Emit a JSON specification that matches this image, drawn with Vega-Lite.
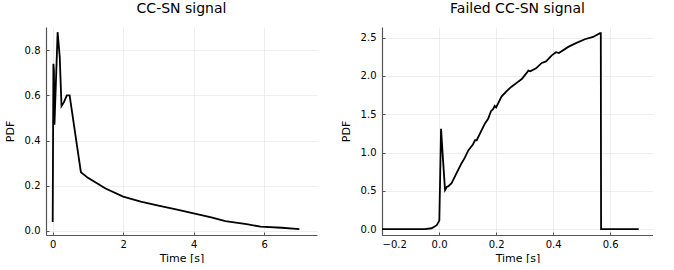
{
  "$schema": "https://vega.github.io/schema/vega-lite/v6.json",
  "padding": {"left": 4, "top": 2, "right": 0, "bottom": 0},
  "spacing": 23,
  "config": {
    "font": "DejaVu Sans",
    "view": {"stroke": null},
    "title": {"fontSize": 14, "fontWeight": "normal", "offset": 11, "anchor": "middle", "color": "#000000"},
    "axis": {
      "domainColor": "#555555",
      "domainWidth": 1.2,
      "gridColor": "#e6e6e6",
      "gridWidth": 0.7,
      "tickColor": "#555555",
      "tickSize": -3,
      "labelFontSize": 10,
      "labelColor": "#000000",
      "labelPadding": 9,
      "titleFontSize": 11,
      "titleFontWeight": "normal",
      "titleColor": "#000000"
    },
    "axisY": {"titlePadding": 9},
    "axisX": {"titlePadding": 3, "labelPadding": 7}
  },
  "datasets": {
    "ccsn": [
      {"t": 0.0, "pdf": 0.04},
      {"t": 0.02, "pdf": 0.74},
      {"t": 0.035, "pdf": 0.71},
      {"t": 0.05, "pdf": 0.47},
      {"t": 0.14, "pdf": 0.88},
      {"t": 0.2, "pdf": 0.77},
      {"t": 0.25, "pdf": 0.553},
      {"t": 0.32, "pdf": 0.57},
      {"t": 0.4, "pdf": 0.6},
      {"t": 0.48, "pdf": 0.6},
      {"t": 0.8, "pdf": 0.26},
      {"t": 1.0, "pdf": 0.235},
      {"t": 1.5, "pdf": 0.188},
      {"t": 2.0, "pdf": 0.152},
      {"t": 2.5, "pdf": 0.13},
      {"t": 3.0, "pdf": 0.112},
      {"t": 3.5, "pdf": 0.095},
      {"t": 4.0, "pdf": 0.078},
      {"t": 4.5, "pdf": 0.06},
      {"t": 4.9, "pdf": 0.043},
      {"t": 5.5, "pdf": 0.03},
      {"t": 5.9, "pdf": 0.019},
      {"t": 6.5, "pdf": 0.014},
      {"t": 7.0, "pdf": 0.008}
    ],
    "failed": [
      {"t": -0.2, "pdf": 0.0},
      {"t": -0.05, "pdf": 0.0},
      {"t": -0.026, "pdf": 0.01},
      {"t": -0.008, "pdf": 0.05},
      {"t": 0.001, "pdf": 0.11},
      {"t": 0.007, "pdf": 1.31},
      {"t": 0.014, "pdf": 0.9},
      {"t": 0.021, "pdf": 0.51},
      {"t": 0.027, "pdf": 0.55},
      {"t": 0.033, "pdf": 0.56},
      {"t": 0.044, "pdf": 0.6},
      {"t": 0.06, "pdf": 0.72},
      {"t": 0.079, "pdf": 0.86},
      {"t": 0.09, "pdf": 0.93},
      {"t": 0.103, "pdf": 1.03},
      {"t": 0.118, "pdf": 1.1},
      {"t": 0.126, "pdf": 1.16},
      {"t": 0.132, "pdf": 1.16},
      {"t": 0.145, "pdf": 1.26},
      {"t": 0.161, "pdf": 1.38},
      {"t": 0.172, "pdf": 1.44},
      {"t": 0.182, "pdf": 1.54},
      {"t": 0.19, "pdf": 1.57},
      {"t": 0.195, "pdf": 1.61},
      {"t": 0.2, "pdf": 1.59},
      {"t": 0.219, "pdf": 1.73},
      {"t": 0.236, "pdf": 1.8},
      {"t": 0.254, "pdf": 1.86},
      {"t": 0.272, "pdf": 1.91},
      {"t": 0.29, "pdf": 1.96},
      {"t": 0.305, "pdf": 2.03},
      {"t": 0.313, "pdf": 2.07},
      {"t": 0.32, "pdf": 2.06},
      {"t": 0.34, "pdf": 2.1},
      {"t": 0.36, "pdf": 2.17},
      {"t": 0.375, "pdf": 2.19},
      {"t": 0.395, "pdf": 2.27},
      {"t": 0.41, "pdf": 2.31},
      {"t": 0.42, "pdf": 2.3},
      {"t": 0.453, "pdf": 2.38},
      {"t": 0.48, "pdf": 2.43},
      {"t": 0.511, "pdf": 2.48},
      {"t": 0.54, "pdf": 2.51},
      {"t": 0.564, "pdf": 2.56},
      {"t": 0.567, "pdf": 2.56},
      {"t": 0.568, "pdf": 0.0},
      {"t": 0.7, "pdf": 0.0}
    ]
  },
  "hconcat": [
    {
      "title": "CC-SN signal",
      "width": 271,
      "height": 208,
      "data": {"name": "ccsn"},
      "mark": {"type": "line", "color": "#000000", "strokeWidth": 1.8, "clip": true},
      "encoding": {
        "x": {"field": "t", "type": "quantitative",
          "scale": {"domain": [-0.19, 7.5], "nice": false, "zero": false},
          "axis": {"title": "Time [s]", "values": [0, 2, 4, 6], "format": "d"}},
        "y": {"field": "pdf", "type": "quantitative",
          "scale": {"domain": [-0.018, 0.903], "nice": false, "zero": false},
          "axis": {"title": "PDF", "values": [0, 0.2, 0.4, 0.6, 0.8], "format": ".1f"}},
        "order": {"field": "t"}
      }
    },
    {
      "title": "Failed CC-SN signal",
      "width": 271,
      "height": 208,
      "data": {"name": "failed"},
      "mark": {"type": "line", "color": "#000000", "strokeWidth": 1.8, "clip": true},
      "encoding": {
        "x": {"field": "t", "type": "quantitative",
          "scale": {"domain": [-0.2, 0.75], "nice": false, "zero": false},
          "axis": {"title": "Time [s]", "values": [-0.2, 0, 0.2, 0.4, 0.6], "format": ".1f"}},
        "y": {"field": "pdf", "type": "quantitative",
          "scale": {"domain": [-0.078, 2.64], "nice": false, "zero": false},
          "axis": {"title": "PDF", "values": [0, 0.5, 1, 1.5, 2, 2.5], "format": ".1f"}},
        "order": {"field": "t"}
      }
    }
  ]
}
